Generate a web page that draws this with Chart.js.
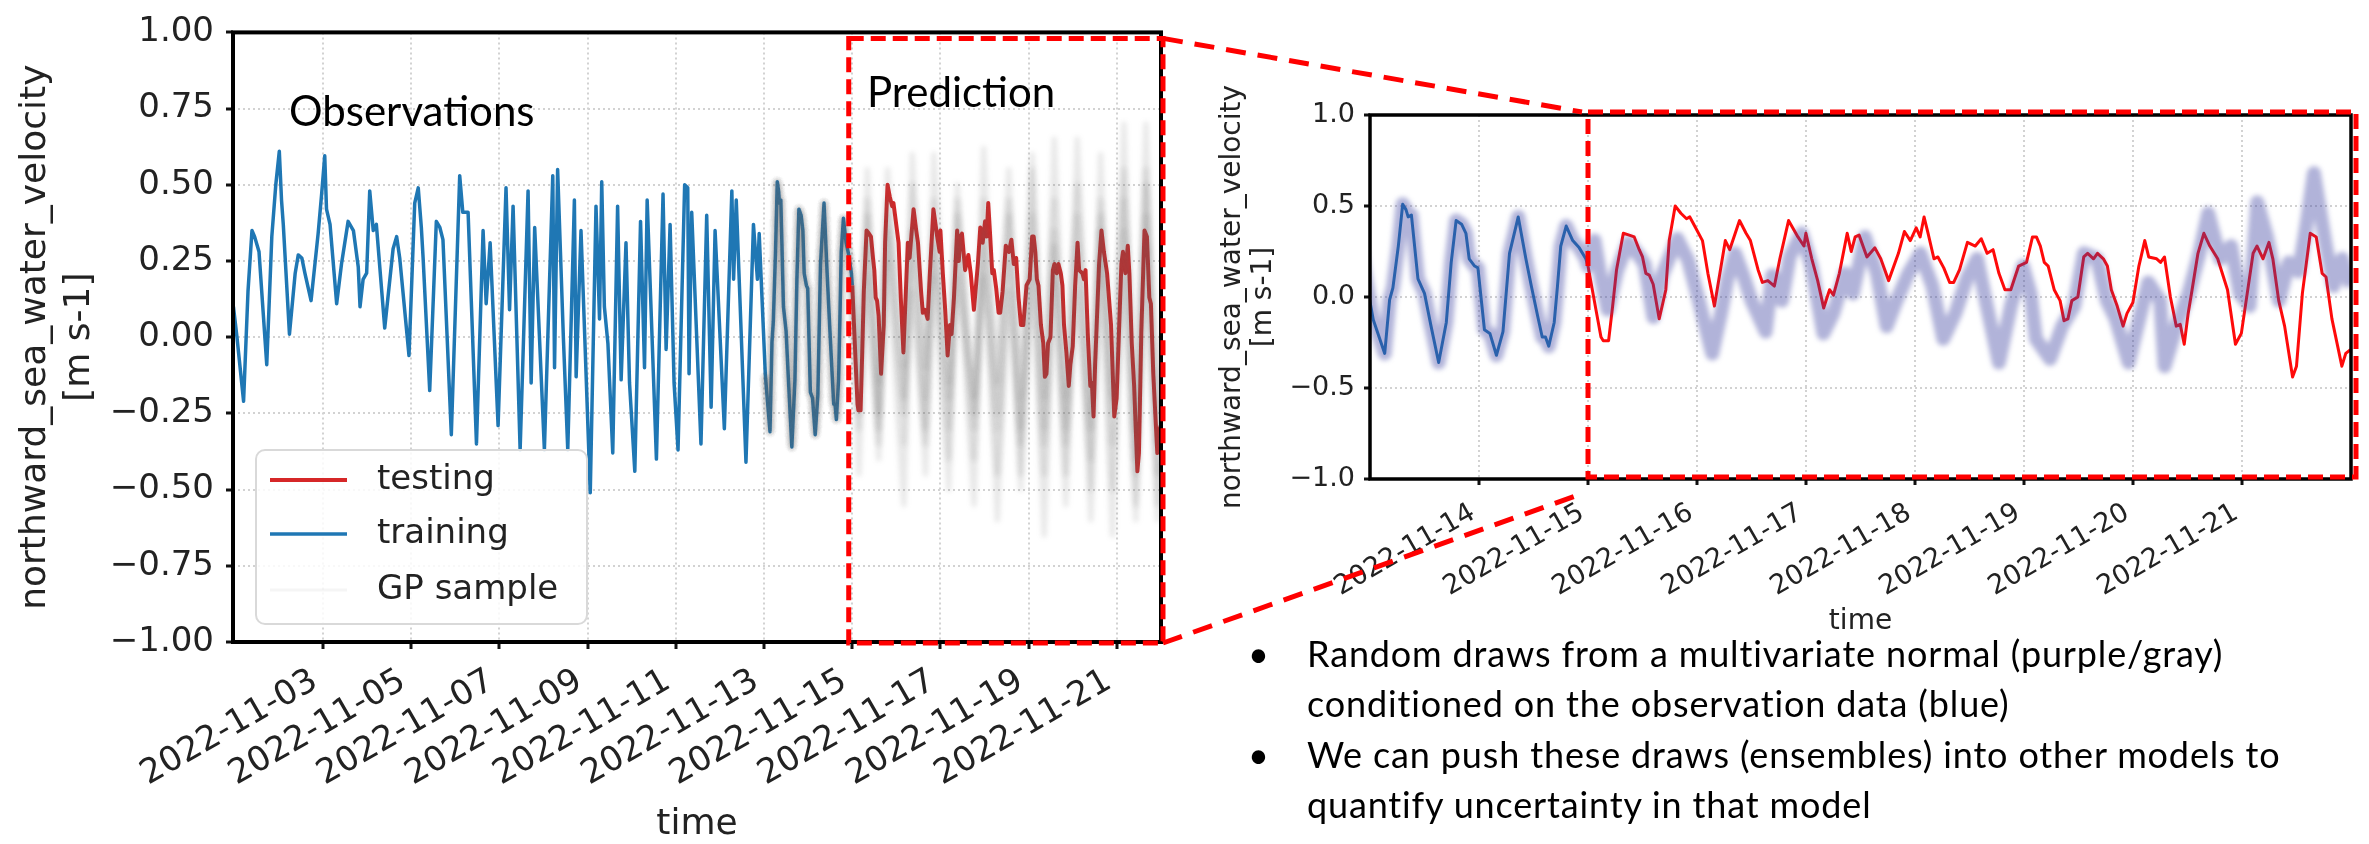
<!DOCTYPE html>
<html>
<head>
<meta charset="utf-8">
<title>GP samples - northward sea water velocity</title>
<script src="https://cdn.jsdelivr.net/npm/chart.js@4.4.1/dist/chart.umd.min.js"></script>
<style>
  html, body { margin:0; padding:0; background:#fff; }
  #page { position:relative; width:2369px; height:844px; overflow:hidden; background:#fff; }
  #c1 { position:absolute; left:0; top:0; }
  #c2 { position:absolute; left:1180px; top:0; }
  #links { position:absolute; left:0; top:0; pointer-events:none; }
  .tag { position:absolute; font-family:Lato, "Open Sans", sans-serif; font-size:42px; line-height:42px; color:#000; white-space:nowrap; }
  #notes { position:absolute; left:1240px; top:628px; font-family:Lato, "Open Sans", sans-serif; font-size:36px; letter-spacing:0.85px; line-height:50.3px; color:#000; white-space:nowrap; }
  #notes .row { position:relative; padding-left:67px; height:50.3px; }
  #notes .dot { position:absolute; left:8px; top:0; }
</style>
</head>
<body>
<div id="page">
  <canvas id="c1" width="1200" height="844"></canvas>
  <canvas id="c2" width="1189" height="700"></canvas>
  <div class="tag" style="left:289px;top:89px">Observations</div>
  <div class="tag" style="left:867px;top:70px">Prediction</div>
  <div id="notes">
    <div class="row"><span class="dot">•</span>Random draws from a multivariate normal (purple/gray)</div>
    <div class="row">conditioned on the observation data (blue)</div>
    <div class="row"><span class="dot">•</span>We can push these draws (ensembles) into other models to</div>
    <div class="row">quantify uncertainty in that model</div>
  </div>
  <svg id="links" width="2369" height="844"></svg>
</div>
<script>
// ---------------- DATA (x = day of November 2022, fractional) ----------------
// observations used for training  [day, velocity m/s]
const obsPoints = [
 [0.97,0.10],[1.05,0.0],[1.2,-0.21],[1.3,0.15],[1.39,0.35],[1.45,0.33],[1.55,0.28],[1.725,-0.09],[1.84,0.33],[1.93,0.5],
 [2.01,0.61],[2.06,0.45],[2.1,0.37],[2.24,0.01],[2.37,0.21],[2.44,0.27],[2.52,0.26],[2.59,0.21],[2.73,0.12],[2.89,0.34],
 [2.97,0.47],[3.04,0.595],[3.08,0.42],[3.16,0.37],[3.31,0.11],[3.42,0.24],[3.57,0.38],[3.69,0.35],[3.8,0.23],[3.84,0.10],
 [3.91,0.19],[3.99,0.21],[4.06,0.48],[4.14,0.35],[4.21,0.37],[4.4,0.03],[4.59,0.29],[4.67,0.33],[4.74,0.26],[4.95,-0.06],
 [5.08,0.44],[5.16,0.49],[5.23,0.36],[5.27,0.26],[5.42,-0.175],[5.57,0.38],[5.65,0.36],[5.72,0.32],[5.91,-0.32],[6.1,0.53],
 [6.17,0.41],[6.29,0.41],[6.48,-0.35],[6.63,0.35],[6.7,0.11],[6.79,0.31],[6.97,-0.29],[7.15,0.49],[7.23,0.09],[7.31,0.43],
 [7.47,-0.37],[7.65,0.48],[7.72,-0.15],[7.8,0.36],[8.02,-0.37],[8.21,0.53],[8.25,-0.1],[8.32,0.55],[8.45,0.0],[8.55,-0.37],
 [8.7,0.45],[8.74,-0.13],[8.85,0.35],[9.06,-0.51],[9.19,0.43],[9.27,0.06],[9.32,0.51],[9.38,0.1],[9.46,-0.02],[9.57,-0.38],
 [9.68,0.43],[9.76,-0.14],[9.87,0.31],[9.95,-0.15],[10.07,-0.44],[10.2,0.38],[10.29,-0.1],[10.35,0.45],[10.56,-0.40],[10.71,0.47],
 [10.78,-0.04],[10.87,0.37],[10.96,-0.15],[11.05,-0.37],[11.2,0.50],[11.27,0.49],[11.3,-0.12],[11.36,0.41],[11.57,-0.35],[11.7,0.40],
 [11.8,-0.23],[11.89,0.35],[12.1,-0.30],[12.27,0.48],[12.31,0.19],[12.37,0.45],[12.59,-0.41],[12.76,0.37],[12.85,0.19],[12.89,0.34],
 [13.03,-0.125],[13.135,-0.31],[13.18,-0.015],[13.21,0.05],[13.26,0.28],[13.3,0.51],[13.33,0.48],[13.35,0.44],[13.38,0.45],[13.44,0.10],
 [13.5,0.02],[13.56,-0.16],[13.63,-0.36],[13.7,-0.14],[13.745,0.19],[13.79,0.42],[13.84,0.40],[13.88,0.35],[13.91,0.21],[13.96,0.17],
 [13.99,0.16],[14.05,-0.18],[14.1,-0.20],[14.16,-0.32],[14.22,-0.19],[14.28,0.24],[14.36,0.44],[14.43,0.21],[14.48,0.06],[14.54,-0.11],
 [14.58,-0.22],[14.61,-0.22],[14.64,-0.27],[14.69,-0.14],[14.72,0.06],[14.75,0.28],[14.8,0.39],[14.86,0.31],[14.92,0.27],[14.98,0.21],
 [15.0,0.17]
];
// held-out observations used for testing
const testPoints = [
 [15.0,0.17],[15.073,-0.07],[15.119,-0.22],[15.14,-0.24],[15.189,-0.24],[15.226,-0.05],[15.262,0.15],[15.324,0.35],[15.378,0.34],[15.424,0.33],
 [15.47,0.26],[15.5,0.22],[15.531,0.13],[15.562,0.12],[15.598,0.07],[15.653,-0.12],[15.684,-0.04],[15.714,0.04],[15.745,0.31],[15.8,0.50],
 [15.852,0.46],[15.904,0.43],[15.934,0.44],[15.97,0.40],[16.05,0.31],[16.1,0.13],[16.16,-0.05],[16.26,0.31],[16.3,0.26],[16.39,0.42],
 [16.45,0.35],[16.49,0.31],[16.56,0.15],[16.6,0.08],[16.65,0.09],[16.71,0.06],[16.76,0.21],[16.84,0.42],[16.926,0.33],[16.981,0.28],
 [16.999,0.35],[17.053,0.21],[17.107,0.09],[17.162,-0.06],[17.216,0.04],[17.252,0.01],[17.306,0.13],[17.378,0.35],[17.415,0.25],[17.451,0.33],
 [17.487,0.34],[17.559,0.22],[17.632,0.27],[17.686,0.21],[17.758,0.09],[17.848,0.24],[17.903,0.36],[17.957,0.31],[18.011,0.38],[18.047,0.33],
 [18.083,0.44],[18.12,0.35],[18.174,0.21],[18.21,0.22],[18.264,0.16],[18.318,0.08],[18.355,0.08],[18.409,0.15],[18.481,0.30],[18.553,0.28],
 [18.608,0.32],[18.662,0.24],[18.716,0.26],[18.77,0.13],[18.825,0.04],[18.879,0.04],[18.951,0.17],[19.023,0.19],[19.078,0.33],[19.114,0.33],
 [19.15,0.28],[19.186,0.19],[19.222,0.17],[19.277,0.04],[19.331,-0.02],[19.367,-0.13],[19.403,-0.12],[19.439,-0.02],[19.494,0.0],[19.548,0.22],
 [19.584,0.24],[19.638,0.21],[19.674,0.24],[19.728,0.21],[19.765,0.17],[19.801,0.04],[19.855,-0.05],[19.909,-0.16],[19.945,-0.09],[19.999,-0.03],
 [20.054,0.17],[20.108,0.31],[20.144,0.22],[20.217,0.21],[20.253,0.19],[20.289,0.22],[20.343,0.0],[20.397,-0.16],[20.433,-0.15],[20.47,-0.26],
 [20.506,-0.09],[20.542,0.04],[20.596,0.24],[20.65,0.35],[20.705,0.28],[20.777,0.21],[20.867,0.04],[20.94,-0.26],[20.994,-0.20],[21.048,0.02],
 [21.102,0.24],[21.138,0.28],[21.193,0.21],[21.247,0.30],[21.283,0.21],[21.337,-0.02],[21.391,-0.16],[21.464,-0.44],[21.5,-0.38],[21.554,0.02],
 [21.626,0.35],[21.681,0.33],[21.735,0.13],[21.771,0.11],[21.825,-0.12],[21.916,-0.38],[21.952,-0.31],[21.995,-0.29]
];
// purple GP draw shown in the zoomed panel (after the conditioning window)
const purplePoints = [
 [15.06,0.31],[15.12,0.10],[15.18,-0.07],[15.27,0.15],[15.37,0.30],[15.45,0.24],[15.52,0.18],[15.6,-0.11],[15.68,0.12],[15.82,0.32],
 [15.92,0.2],[16.0,0.02],[16.14,-0.31],[16.22,-0.09],[16.28,0.10],[16.35,0.24],[16.43,0.11],[16.5,-0.02],[16.63,-0.19],[16.69,0.12],
 [16.78,-0.02],[16.85,0.22],[16.96,0.35],[17.05,0.17],[17.16,-0.2],[17.25,-0.09],[17.36,0.13],[17.43,0.02],[17.54,0.33],[17.65,0.13],
 [17.74,-0.16],[17.83,-0.02],[17.94,0.13],[18.05,0.24],[18.16,0.06],[18.26,-0.23],[18.37,-0.09],[18.48,0.11],[18.57,0.21],[18.66,-0.05],
 [18.77,-0.36],[18.88,-0.05],[18.99,0.17],[19.06,0.02],[19.11,-0.23],[19.24,-0.34],[19.35,-0.16],[19.46,-0.05],[19.55,0.24],[19.67,0.21],
 [19.76,-0.02],[19.84,-0.12],[19.96,-0.36],[20.07,-0.09],[20.14,0.08],[20.25,-0.02],[20.29,-0.38],[20.4,-0.16],[20.51,0.02],[20.61,0.24],
 [20.69,0.46],[20.8,0.21],[20.9,0.28],[20.98,0.02],[21.07,-0.05],[21.14,0.52],[21.23,0.33],[21.34,-0.02],[21.43,0.19],[21.52,0.14],
 [21.59,0.39],[21.66,0.68],[21.77,0.28],[21.84,0.06],[21.92,0.21],[22.0,0.06]
];
// gray GP draws in the overview panel: times of the tidal extrema and the value of each draw there
const gpDays    = [15.15,15.34,15.6,15.8,16.17,16.36,16.66,16.85,17.19,17.38,17.76,17.98,18.29,18.55,18.82,19.08,19.35,19.58,19.84,20.1,20.41,20.63,20.9,21.16,21.43,21.66,21.92,22.0];
const gpSample1 = [-0.30,0.55,-0.15,0.40,-0.35,0.60,-0.20,0.45,-0.40,0.50,-0.25,0.62,-0.30,0.40,-0.45,0.55,-0.30,0.65,-0.20,0.50,-0.50,0.60,-0.35,0.70,-0.45,0.55,-0.55,-0.30];
const gpSample2 = [-0.45,0.30,-0.40,0.25,-0.55,0.35,-0.45,0.20,-0.50,0.30,-0.55,0.35,-0.60,0.25,-0.50,0.30,-0.65,0.20,-0.55,0.30,-0.60,0.25,-0.65,0.35,-0.55,0.30,-0.60,-0.40];
const gpSample3 = [-0.15,0.45,-0.25,0.55,-0.10,0.35,-0.30,0.60,-0.15,0.40,-0.40,0.45,-0.15,0.55,-0.30,0.40,-0.20,0.45,-0.45,0.65,-0.25,0.40,-0.50,0.45,-0.30,0.70,-0.35,-0.10];
const gpSample4 = [-0.25,0.20,-0.35,0.45,-0.20,0.15,-0.35,0.35,-0.30,0.20,-0.20,0.30,-0.45,0.15,-0.35,0.20,-0.45,0.35,-0.35,0.15,-0.40,0.45,-0.25,0.20,-0.60,0.40,-0.45,-0.20];
const gpSample5 = [-0.05,0.40,-0.30,0.35,-0.25,0.50,-0.10,0.30,-0.20,0.45,-0.30,0.20,-0.25,0.45,-0.20,0.60,-0.35,0.30,-0.30,0.40,-0.30,0.35,-0.20,0.55,-0.40,0.50,-0.25,0.00];

// axes
const leftXTickDays   = [3,5,7,9,11,13,15,17,19,21];
const leftXTickLabels = ['2022-11-03','2022-11-05','2022-11-07','2022-11-09','2022-11-11','2022-11-13','2022-11-15','2022-11-17','2022-11-19','2022-11-21'];
const leftYTicks      = [-1,-0.75,-0.5,-0.25,0,0.25,0.5,0.75,1];
const leftYTickLabels = ['\u22121.00','\u22120.75','\u22120.50','\u22120.25','0.00','0.25','0.50','0.75','1.00'];
const rightXTickDays   = [14,15,16,17,18,19,20,21];
const rightXTickLabels = ['2022-11-14','2022-11-15','2022-11-16','2022-11-17','2022-11-18','2022-11-19','2022-11-20','2022-11-21'];
const rightYTicks      = [-1,-0.5,0,0.5,1];
const rightYTickLabels = ['\u22121.0','\u22120.5','0.0','0.5','1.0'];
const yTitle = ['northward_sea_water_velocity','[m s-1]'];
const predictionStart = 14.92;   // left edge of the "Prediction" window
const zoomStart = 15.0;          // left edge of the zoomed window

// ---------------- helpers ----------------
const toXY = arr => arr.map(p => ({x: p[0], y: p[1]}));
const gpXY = vals => toXY(obsPoints.filter(p => p[0] >= 13.03)).concat(gpDays.map((d, i) => ({x: d, y: vals[i]})));

const blurPlugin = {
  id: 'sampleBlur',
  beforeDatasetDraw(chart, args) {
    const ds = chart.data.datasets[args.index];
    chart.ctx.save();
    if (ds.blurPx) chart.ctx.filter = 'blur(' + ds.blurPx + 'px)';
  },
  afterDatasetDraw(chart) { chart.ctx.restore(); }
};

const frameBox = {
  id: 'frameBox',
  afterDatasetsDraw(chart, args, opts) {
    const {ctx, chartArea: a} = chart;
    ctx.save();
    ctx.strokeStyle = '#000';
    ctx.lineWidth = opts.frameWidth;
    ctx.strokeRect(a.left, a.top, a.right - a.left, a.bottom - a.top);
    ctx.restore();
  },
  afterDraw(chart, args, opts) {
    const {ctx, chartArea: a, scales} = chart;
    const b = {
      x1: scales.x.getPixelForValue(opts.boxFrom),
      y1: a.top + opts.inset[0],
      x2: a.right + opts.inset[1],
      y2: a.bottom + opts.inset[2]
    };
    ctx.save();
    ctx.strokeStyle = '#ff0000';
    ctx.lineWidth = 5;
    ctx.setLineDash([15, 7]);
    ctx.strokeRect(b.x1, b.y1, b.x2 - b.x1, b.y2 - b.y1);
    ctx.restore();
    chart.$redBox = b;
  }
};

const insetLegend = {
  id: 'insetLegend',
  afterDatasetsDraw(chart, args, opts) {
    if (!opts || !opts.items) return;
    const {ctx, chartArea: a} = chart;
    const bx = a.left + opts.dx, by = a.bottom - opts.dy - opts.h;
    ctx.save();
    ctx.beginPath();
    ctx.roundRect(bx, by, opts.w, opts.h, 9);
    ctx.fillStyle = 'rgba(255,255,255,0.85)';
    ctx.fill();
    ctx.lineWidth = 2;
    ctx.strokeStyle = '#d9d9d9';
    ctx.stroke();
    ctx.font = '34px "DejaVu Sans"';
    ctx.textBaseline = 'middle';
    opts.items.forEach((lab, i) => {
      const ds = chart.data.datasets.find(d => d.label === lab);
      const yy = by + opts.rows[i];
      ctx.beginPath();
      ctx.moveTo(bx + 14, yy);
      ctx.lineTo(bx + 91, yy);
      ctx.strokeStyle = ds.legendColor || ds.borderColor;
      ctx.lineWidth = ds.legendWidth || ds.borderWidth;
      ctx.stroke();
      ctx.fillStyle = '#222';
      ctx.fillText(lab, bx + 121, yy);
    });
    ctx.restore();
  }
};

function axisX(min, max, tickDays, tickLabels, o) {
  return {
    type: 'linear', min: min, max: max,
    afterBuildTicks: s => { s.ticks = tickDays.map(v => ({value: v})); },
    afterFit: s => { s.height = o.height; },
    ticks: {
      autoSkip: false, minRotation: 30, maxRotation: 30,
      padding: o.pad, labelOffset: o.labelOffset,
      font: {family: 'DejaVu Sans', size: o.font}, color: '#222',
      callback: v => tickLabels[tickDays.indexOf(v)]
    },
    grid: {color: '#d2d2d2', lineWidth: 2, tickLength: o.tick, tickWidth: 3, tickColor: '#111'},
    border: {display: false, dash: [2, 3]},
    title: {display: true, text: 'time', color: '#222',
            font: {family: 'DejaVu Sans', size: o.titleFont, lineHeight: 1},
            padding: {top: 0, bottom: o.titlePad}}
  };
}
function axisY(ticksV, tickLabels, o) {
  return {
    type: 'linear', min: -1, max: 1,
    afterBuildTicks: s => { s.ticks = ticksV.map(v => ({value: v})); },
    afterFit: s => { s.width = o.width; },
    ticks: {
      padding: o.pad, font: {family: 'DejaVu Sans', size: o.font}, color: '#222',
      callback: v => tickLabels[ticksV.indexOf(v)]
    },
    grid: {color: '#d2d2d2', lineWidth: 2, tickLength: o.tick, tickWidth: 3, tickColor: '#111'},
    border: {display: false, dash: [2, 3]},
    title: {display: true, text: yTitle, color: '#222',
            font: {family: 'DejaVu Sans', size: o.titleFont, lineHeight: o.titleLH},
            padding: {top: o.titlePad, bottom: 0}}
  };
}

const gpColor = 'rgba(95,95,95,0.15)';
const gpSet = (vals) => ({label: 'GP sample', data: gpXY(vals), borderColor: gpColor, borderWidth: 5,
                          legendColor: 'rgba(120,120,120,0.07)', legendWidth: 3, blurPx: 2.6, order: 0, clip: 0});

// ---------------- left overview chart ----------------
const leftChart = new Chart(document.getElementById('c1'), {
  type: 'line',
  data: {datasets: [
    gpSet(gpSample1), gpSet(gpSample2), gpSet(gpSample3), gpSet(gpSample4), gpSet(gpSample5),
    {label: 'testing',  data: toXY(testPoints), borderColor: '#d62728', borderWidth: 4,   order: 1, clip: 0},
    {label: 'training', data: toXY(obsPoints),  borderColor: '#1f77b4', borderWidth: 3.5, order: 2, clip: 0}
  ]},
  options: {
    responsive: false, animation: false, devicePixelRatio: 1,
    layout: {padding: {left: 0, top: 23, right: 39, bottom: 0}},
    elements: {point: {radius: 0}, line: {tension: 0, borderJoinStyle: 'round'}},
    plugins: {
      legend: {display: false}, tooltip: {enabled: false},
      frameBox: {frameWidth: 4, boxFrom: predictionStart, inset: [6, 2, 1]},
      insetLegend: {items: ['testing', 'training', 'GP sample'], dx: 23, dy: 18, w: 331, h: 174, rows: [30, 84, 140]}
    },
    scales: {
      x: axisX(0.96, 22.0, leftXTickDays, leftXTickLabels, {height: 202, pad: 12, labelOffset: -8, font: 34, tick: 7, titleFont: 36, titlePad: 1}),
      y: axisY(leftYTicks, leftYTickLabels, {width: 233, pad: 12, font: 34, tick: 7, titleFont: 36, titleLH: 44/36, titlePad: 14})
    }
  },
  plugins: [blurPlugin, frameBox, insetLegend]
});

// ---------------- right zoomed chart ----------------
const rightChart = new Chart(document.getElementById('c2'), {
  type: 'line',
  data: {datasets: [
    {label: 'GP sample', data: toXY(obsPoints.filter(p => p[0] >= 12.89).concat(purplePoints)),
     borderColor: 'rgba(60,65,160,0.40)', borderWidth: 14, blurPx: 2.5, order: 0, clip: 0},
    {label: 'testing',  data: toXY(testPoints), borderColor: '#ff0a0a', borderWidth: 3, order: 1, clip: 0},
    {label: 'training', data: toXY(obsPoints),  borderColor: '#1f77b4', borderWidth: 3, order: 2, clip: 0}
  ]},
  options: {
    responsive: false, animation: false, devicePixelRatio: 1,
    layout: {padding: {left: 0, top: 115, right: 18, bottom: 0}},
    elements: {point: {radius: 0}, line: {tension: 0, borderJoinStyle: 'round'}},
    plugins: {
      legend: {display: false}, tooltip: {enabled: false},
      frameBox: {frameWidth: 3.5, boxFrom: zoomStart, inset: [-3, 5, -2]}
    },
    scales: {
      x: axisX(13.0, 22.0, rightXTickDays, rightXTickLabels, {height: 221, pad: 12, labelOffset: -6, font: 27, tick: 6, titleFont: 28, titlePad: 64}),
      y: axisY(rightYTicks, rightYTickLabels, {width: 190, pad: 9, font: 27, tick: 6, titleFont: 28, titleLH: 31/28, titlePad: 37.5})
    }
  },
  plugins: [blurPlugin, frameBox]
});

// ---------------- dashed connectors between the two windows ----------------
function drawLinks() {
  const L = leftChart.$redBox, R = rightChart.$redBox;
  if (!L || !R) return;
  const ox = 1180, oy = 0;
  const svg = document.getElementById('links');
  const seg = (x1, y1, x2, y2) =>
    '<line x1="' + x1 + '" y1="' + y1 + '" x2="' + x2 + '" y2="' + y2 +
    '" stroke="#ff0000" stroke-width="5" stroke-dasharray="20 12"/>';
  svg.innerHTML =
    seg(L.x2, L.y1, R.x1 + ox - 6, R.y1 + oy) +
    seg(L.x2, L.y2, R.x1 + ox - 4, R.y2 + oy + 16);
}
drawLinks();
setTimeout(drawLinks, 50);
</script>
</body>
</html>
